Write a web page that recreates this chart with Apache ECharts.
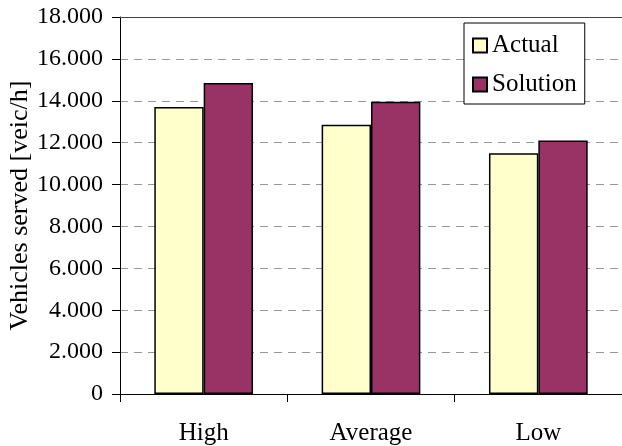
<!DOCTYPE html>
<html>
<head>
<meta charset="utf-8">
<script src="https://cdn.jsdelivr.net/npm/echarts@6/dist/echarts.min.js"></script>
<style>
html,body{margin:0;padding:0;background:#fff;}
#chart{width:622px;height:446px;}
</style>
</head>
<body>
<div id="chart"></div>
<script>
var categories = ['High', 'Average', 'Low'];
var actualValues = [13700, 12850, 11500];
var solutionValues = [14850, 13950, 12100];
var yTicks = { min: 0, max: 18000, interval: 2000 };

var FONT = "'Liberation Serif', 'Times New Roman', serif";
function fmt(v) {
  var s = String(Math.round(v));
  return s.replace(/\B(?=(\d{3})+(?!\d))/g, '.');
}

var chart = echarts.init(document.getElementById('chart'), null, { renderer: 'canvas' });
chart.setOption({
  animation: false,
  backgroundColor: '#fff',
  textStyle: { fontFamily: FONT, color: '#000' },
  grid: { left: 120, top: 17, right: 0, bottom: 52, containLabel: false, outerBoundsMode: 'none' },
  legend: {
    orient: 'vertical',
    left: 464,
    top: 23,
    padding: [10, 8, 7, 8],
    borderColor: '#000',
    borderWidth: 1,
    backgroundColor: '#fff',
    itemWidth: 14,
    itemHeight: 14,
    itemGap: 14,
    itemTextGap: 12,
    icon: 'rect',
    textStyle: { fontFamily: FONT, fontSize: 25, color: '#000' },
    data: ['Actual', 'Solution']
  },
  xAxis: {
    type: 'category',
    data: categories,
    boundaryGap: true,
    axisLine: { lineStyle: { color: '#000', width: 1 } },
    axisTick: { show: true, length: 8, lineStyle: { color: '#000' } },
    axisLabel: { fontFamily: FONT, fontSize: 25, color: '#000', margin: 27 },
    splitLine: { show: false }
  },
  yAxis: {
    type: 'value',
    min: yTicks.min,
    max: yTicks.max,
    interval: yTicks.interval,
    name: 'Vehicles served [veic/h]',
    nameLocation: 'middle',
    nameGap: 87,
    nameMoveOverlap: false,
    nameTextStyle: { fontFamily: FONT, fontSize: 26, color: '#000' },
    axisLine: { show: true, lineStyle: { color: '#000', width: 1 } },
    axisTick: { show: true, length: 8, lineStyle: { color: '#000' } },
    axisLabel: { fontFamily: FONT, fontSize: 24, color: '#000', margin: 17, formatter: fmt },
    splitLine: { show: true, lineStyle: { color: '#999', type: [8, 6], width: 1 } }
  },
  series: [
    {
      name: 'Actual',
      type: 'bar',
      data: actualValues,
      barGap: '0%',
      barCategoryGap: '41%',
      itemStyle: { color: '#FFFFCC', borderColor: '#000', borderWidth: 1.5 },
      markLine: {
        silent: true,
        symbol: 'none',
        label: { show: false },
        lineStyle: { color: '#444', type: 'solid', width: 1 },
        data: [{ yAxis: yTicks.max }]
      }
    },
    {
      name: 'Solution',
      type: 'bar',
      data: solutionValues,
      barGap: '0%',
      barCategoryGap: '41%',
      itemStyle: { color: '#993366', borderColor: '#000', borderWidth: 1.5 }
    }
  ]
});
</script>
</body>
</html>
